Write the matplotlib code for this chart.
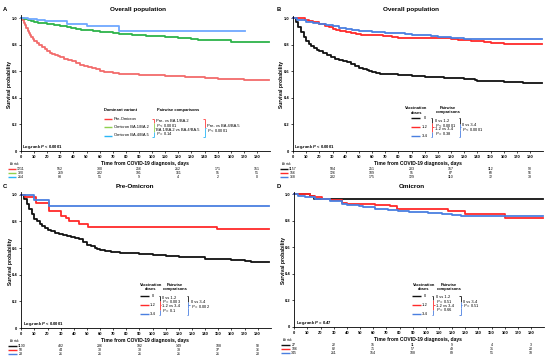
import matplotlib
matplotlib.use('Agg')
import matplotlib.pyplot as plt
from matplotlib.lines import Line2D
import matplotlib.transforms as mtransforms

plt.rcParams['font.family'] = ['Liberation Sans', 'DejaVu Sans']
plt.rcParams['mathtext.fontset'] = 'custom'
plt.rcParams['mathtext.rm'] = 'Liberation Sans'
plt.rcParams['mathtext.it'] = 'Liberation Sans:italic'
plt.rcParams['mathtext.bf'] = 'Liberation Sans:bold'
plt.rcParams['mathtext.bfit'] = 'Liberation Sans:bold:italic'

# ---------------- data ----------------
xticks = list(range(0, 181, 10))
yticks = [0, 0.2, 0.4, 0.6, 0.8, 1.0]
ytick_labels = ['0', '0.2', '0.4', '0.6', '0.8', '1.0']
risk_times = [0, 30, 60, 90, 120, 150, 180]

titles = ['Overall population', 'Overall population', 'Pre-Omicron', 'Omicron']
panel_letters = ['A', 'B', 'C', 'D']
logrank_texts = [r'Log-rank $\mathbfit{P}$ < 0.0001', r'Log-rank $\mathbfit{P}$ < 0.0001',
                 r'Log-rank $\mathbfit{P}$ < 0.0001', r'Log-rank $\mathbfit{P}$ = 0.47']

# Panel A: dominant variant
a_names = ['Pre-Omicron', 'Omicron BA.1/BA.2', 'Omicron BA.4/BA.5']
a_pre_t = [0, 1, 2, 3, 4, 5, 6, 7, 8, 9, 10, 12, 14, 16, 18, 20, 22, 24, 26, 28, 30, 33, 36, 39, 42,
           45, 48, 51, 54, 57, 60, 63, 66, 70, 75, 80, 85, 90, 95, 100, 105, 110, 115, 120, 125,
           130, 138, 140, 145, 150, 155, 160, 170, 175, 180, 189]
a_pre_s = [1.0, .985, .965, .945, .925, .905, .885, .87, .855, .84, .83, .81, .795, .78, .765, .75,
           .74, .73, .72, .712, .705, .695, .685, .675, .665, .65, .638, .63, .625, .615, .605, .597,
           .592, .587, .582, .579, .577, .575, .573, .571, .569, .566, .563, .561, .559, .557, .555,
           .549, .546, .544, .542, .539, .537, .535, .533, .533]
a_ba12_t = [0, 2, 5, 8, 10, 13, 16, 20, 25, 30, 35, 38, 42, 46, 50, 55, 60, 65, 70, 75, 80, 85,
            90, 95, 100, 110, 115, 120, 125, 130, 135, 160, 189]
a_ba12_s = [1.0, .99, .985, .977, .972, .966, .96, .955, .949, .942, .935, .926, .919, .913, .907,
            .902, .897, .892, .887, .882, .877, .873, .87, .867, .864, .86, .856, .851, .846, .84,
            .836, .823, .823]
a_ba45_t = [0, 5, 12, 18, 35, 50, 75, 171]
a_ba45_s = [1.0, .99, .985, .975, .956, .94, .906, .906]
a_risk = [[1211, 552, 300, 256, 212, 171, 151],
          [320, 269, 232, 191, 161, 95, 51],
          [214, 88, 51, 9, 4, 2, 0]]

# Panel B: overall population by vaccination doses
dose_names = ['0', '1-2', '3-4']
b_0_t = [0, 2, 4, 6, 8, 10, 12, 14, 16, 18, 20, 23, 26, 29, 32, 35, 38, 41, 44, 47, 50, 53, 56,
         58, 60, 63, 66, 70, 80, 90, 100, 110, 115, 120, 130, 135, 138, 140, 150, 160, 170, 175,
         180, 189]
b_0_s = [1.0, .97, .935, .895, .86, .83, .81, .79, .775, .76, .75, .735, .72, .707, .697, .688,
         .678, .668, .655, .638, .625, .62, .61, .6, .594, .586, .582, .578, .571, .566, .561,
         .556, .551, .548, .544, .541, .533, .528, .524, .521, .518, .514, .512, .512]
b_12_t = [0, 9, 12, 15, 20, 24, 27, 30, 33, 36, 40, 44, 48, 52, 60, 68, 75, 80, 85, 120, 125,
          135, 145, 150, 160, 189]
b_12_s = [1.0, .99, .98, .97, .955, .945, .935, .92, .91, .903, .895, .888, .88, .875, .872,
          .865, .858, .852, .848, .842, .834, .828, .82, .812, .804, .804]
b_34_t = [0, 3, 6, 10, 15, 20, 25, 30, 35, 40, 45, 50, 55, 60, 65, 70, 75, 80, 85, 90, 95, 100,
          105, 110, 115, 120, 125, 130, 189]
b_34_s = [1.0, .99, .985, .975, .965, .955, .948, .94, .93, .917, .913, .908, .903, .9, .896,
          .892, .889, .886, .881, .877, .874, .871, .866, .862, .857, .853, .849, .845, .845]
b_risk = [[1157, 504, 251, 203, 157, 112, 93],
          [156, 126, 109, 95, 87, 68, 56],
          [368, 232, 175, 129, 110, 72, 38]]

# Panel C: Pre-Omicron by vaccination doses
c_0_t = [0, 2, 4, 6, 8, 10, 12, 14, 16, 18, 20, 23, 26, 29, 32, 35, 38, 41, 44, 47, 50, 53, 56,
         58, 60, 64, 68, 75, 80, 90, 100, 110, 120, 130, 140, 150, 160, 170, 175, 180, 189]
c_0_s = [1.0, .965, .93, .89, .855, .82, .8, .78, .765, .75, .738, .725, .715, .708, .7, .692,
         .685, .678, .665, .645, .625, .615, .6, .59, .582, .575, .57, .565, .56, .554, .548,
         .541, .535, .531, .52, .515, .51, .503, .498, .494, .494]
c_12_t = [0, 3, 11, 21, 30, 34, 36, 44, 51, 149, 189]
c_12_s = [1.0, .98, .94, .88, .84, .825, .80, .78, .76, .74, .74]
c_34_t = [0, 10, 21, 189]
c_34_s = [1.0, .96, .915, .915]
c_risk = [[1130, 482, 236, 192, 149, 108, 90],
          [50, 44, 38, 38, 38, 37, 36],
          [23, 21, 21, 21, 21, 21, 20]]

# Panel D: Omicron by vaccination doses
d_0_t = [0, 12, 15, 189]
d_0_s = [1.0, .987, .962, .962]
d_12_t = [0, 12, 16, 21, 27, 36, 40, 61, 73, 78, 102, 117, 130, 160, 189]
d_12_s = [1.0, .99, .98, .967, .955, .937, .93, .917, .91, .892, .886, .874, .854, .822, .822]
d_34_t = [0, 3, 8, 16, 27, 36, 40, 49, 52, 61, 71, 79, 87, 102, 112, 120, 127, 189]
d_34_s = [1.0, .99, .98, .967, .95, .925, .917, .912, .905, .892, .879, .874, .867, .862, .854,
          .842, .834, .834]
d_risk = [[27, 22, 15, 11, 9, 4, 3],
          [106, 82, 71, 57, 49, 31, 20],
          [345, 211, 154, 108, 89, 51, 18]]

# ---------------- style ----------------
RED_A, GREEN_A, BLUE_A = '#F26B6B', '#2DB34A', '#6FA8FF'
LEG_A = ['#FF3B3B', '#8FD14F', '#29B6F6']
BLACK, RED, BLUE = '#111111', '#FF2A2A', '#4A7FE0'
W, H = 550, 364

fig = plt.figure(figsize=(W / 100, H / 100), dpi=100)


def fx(x):
    return x / W


def fy(y):
    return 1 - y / H


def ftext(x, y, s, size=2.8, weight='normal', ha='left', color='black', **kw):
    fig.text(fx(x), fy(y), s, fontsize=size, fontweight=weight, ha=ha, va='center',
             color=color, **kw)


def fline(x0, x1, y0, y1, color, lw=1.0):
    fig.add_artist(Line2D([fx(x0), fx(x1)], [fy(y0), fy(y1)], color=color, lw=lw,
                          transform=fig.transFigure, solid_capstyle='butt'))


def bracket(x, y0, y1, colors, lw=0.6):
    n = len(colors)
    step = (y1 - y0) / n
    for i, c in enumerate(colors):
        fline(x, x, y0 + i * step, y0 + (i + 1) * step, c, lw)
    fline(x - 1.5, x, y0, y0, colors[0], lw)
    fline(x - 1.5, x, y1, y1, colors[-1], lw)
    fline(x, x + 1.2, (y0 + y1) / 2, (y0 + y1) / 2, colors[n // 2], lw)


def make_axes(left, zero_y, one_y, px_day):
    unit = zero_y - one_y
    top = zero_y - 1.02 * unit
    width = 190 * px_day
    ax = fig.add_axes([fx(left), fy(zero_y), width / W, (zero_y - top) / H])
    ax.set_xlim(0, 190)
    ax.set_ylim(0, 1.02)
    for s in ['top', 'right']:
        ax.spines[s].set_visible(False)
    for s in ['left', 'bottom']:
        ax.spines[s].set_linewidth(0.6)
    ax.set_xticks(xticks)
    ax.set_xticklabels([str(v) for v in xticks], fontsize=2.9, fontweight='bold')
    ax.set_yticks(yticks)
    ax.set_yticklabels(ytick_labels, fontsize=2.9, fontweight='bold')
    ax.tick_params(length=1.5, width=0.5, pad=1.2)
    return ax, unit


def risk_table(ax, unit_px, rows, colors):
    tr = mtransforms.blended_transform_factory(ax.transData, ax.transAxes)
    hpx = 1.02 * unit_px
    ax.text(-5.5, -13.0 / hpx, 'At risk', transform=tr, fontsize=2.2, ha='center',
            va='center', clip_on=False)
    for r, (vals, c) in enumerate(zip(rows, colors)):
        yy = -(18.0 + r * 3.9) / hpx
        ax.plot([-10, -3.5], [yy, yy], transform=tr, color=c, lw=1.0, clip_on=False,
                solid_capstyle='butt')
        for t, v in zip(risk_times, vals):
            ax.text(t, yy, str(v), transform=tr, fontsize=2.5, ha='center', va='center',
                    clip_on=False)


panels = [
    dict(left=21, zero=151, one=18, pxd=1.311, cx=145,
         curves=[(a_pre_t, a_pre_s, RED_A), (a_ba12_t, a_ba12_s, GREEN_A), (a_ba45_t, a_ba45_s, BLUE_A)],
         risk=a_risk, rcol=LEG_A, title_x=138, title_y=9.3, letter=(5, 9.3)),
    dict(left=293, zero=151, one=18.3, pxd=1.317, cx=418,
         curves=[(b_0_t, b_0_s, BLACK), (b_12_t, b_12_s, RED), (b_34_t, b_34_s, BLUE)],
         risk=b_risk, rcol=[BLACK, RED, BLUE], title_x=411, title_y=9.3, letter=(279, 9.3)),
    dict(left=21.3, zero=328, one=194.7, pxd=1.313, cx=145,
         curves=[(c_0_t, c_0_s, BLACK), (c_12_t, c_12_s, RED), (c_34_t, c_34_s, BLUE)],
         risk=c_risk, rcol=[BLACK, RED, BLUE], title_x=135, title_y=186, letter=(5, 186)),
    dict(left=294.3, zero=327, one=194.3, pxd=1.315, cx=418,
         curves=[(d_0_t, d_0_s, BLACK), (d_12_t, d_12_s, RED), (d_34_t, d_34_s, BLUE)],
         risk=d_risk, rcol=[BLACK, RED, BLUE], title_x=411.7, title_y=186, letter=(279, 186)),
]

for i, p in enumerate(panels):
    ax, unit = make_axes(p['left'], p['zero'], p['one'], p['pxd'])
    for t, s, c in p['curves']:
        ax.step(t, s, where='post', color=c, lw=1.3, clip_on=False)
    risk_table(ax, unit, p['risk'], p['rcol'])
    ftext(p['title_x'], p['title_y'], titles[i], size=4.6, weight='bold', ha='center')
    ftext(p['letter'][0], p['letter'][1], panel_letters[i], size=4.2, weight='bold', ha='center')
    ftext(p['cx'], p['zero'] + 12.3, 'Time from COVID-19 diagnosis, days', size=3.6,
          weight='bold', ha='center')
    fig.text(fx(p['left'] - 11), fy((p['zero'] + p['one']) / 2), 'Survival probability',
             fontsize=3.6, fontweight='bold', rotation=90, ha='center', va='center')
    ftext(p['left'] + 1.5, p['zero'] - 4, logrank_texts[i], size=3.0, weight='bold')

# ---------------- legends ----------------
# Panel A
ftext(104, 109.5, 'Dominant variant', size=2.9, weight='bold')
ftext(156.7, 109.5, 'Pairwise comparisons', size=2.9, weight='bold')
for y, name, c in zip([119, 127, 135.5], a_names, LEG_A):
    fline(104, 112, y, y, c, 1.0)
    ftext(114, y, name, size=2.9)
bracket(153.5, 119, 136.5, [LEG_A[0], LEG_A[1], LEG_A[1], LEG_A[2]])
for y, s in zip([121.5, 125.5, 129.6, 133.8],
                ['Pre- vs BA.1/BA.2', r'$P$ < 0.0001', 'BA.1/BA.2 vs BA.4/BA.5', r'$P$ = 0.14']):
    ftext(156, y, s, size=2.9)
bracket(204.5, 119, 136.5, [LEG_A[0], LEG_A[2]])
ftext(207, 126, 'Pre- vs BA.4/BA.5', size=2.9)
ftext(207, 130.2, r'$P$ < 0.0001', size=2.9)


def dose_legend(xh, xp, yh, rows_y, line_x, lab_x, b1x, b1y, b1txt, b2x, b2txt):
    ftext(xh, yh, 'Vaccination', size=2.9, weight='bold', ha='center')
    ftext(xh, yh + 4.5, 'doses', size=2.9, weight='bold', ha='center')
    ftext(xp, yh, 'Pairwise', size=2.9, weight='bold', ha='center')
    ftext(xp, yh + 4.5, 'comparisons', size=2.9, weight='bold', ha='center')
    for y, name, c in zip(rows_y, dose_names, [BLACK, RED, BLUE]):
        fline(line_x[0], line_x[1], y, y, c, 1.0)
        ftext(lab_x, y, name, size=2.9, ha='center')
    bracket(b1x, rows_y[0] - 0.5, rows_y[2] + 0.5, [BLACK, RED, RED, BLUE])
    for k, s in enumerate(b1txt):
        ftext(b1x + 2.3, b1y + k * 4.2, s, size=2.9)
    bracket(b2x, rows_y[0] - 0.5, rows_y[2] + 0.5, [BLACK, BLUE, BLUE])
    for k, s in enumerate(b2txt):
        ftext(b2x + 2.3, b1y + 4.4 + k * 4.2, s, size=2.9)


dose_legend(416.5, 448, 108, [118.3, 127, 136.2], (411, 420), 425, 432.3, 121,
            ['0 vs 1-2', r'$P$ < 0.0001', '1-2 vs 3-4', r'$P$ = 0.38'],
            460, ['0 vs 3-4', r'$P$ < 0.0001'])
dose_legend(150.8, 175, 284.9, [296.3, 304.8, 314.2], (140, 149), 153, 160, 297.7,
            ['0 vs 1-2', r'$P$ = 0.003', '1-2 vs 3-4', r'$P$ = 0.1'],
            188.3, ['0 vs 3-4', r'$P$ = 0.002'])
dose_legend(424, 449, 284.9, [296, 304.7, 314], (411.7, 420.7), 425, 433.3, 297.3,
            ['0 vs 1-2', r'$P$ = 0.51', '1-2 vs 3-4', r'$P$ = 0.66'],
            460.7, ['0 vs 3-4', r'$P$ = 0.51'])

fig.savefig('out.png', dpi=100)
